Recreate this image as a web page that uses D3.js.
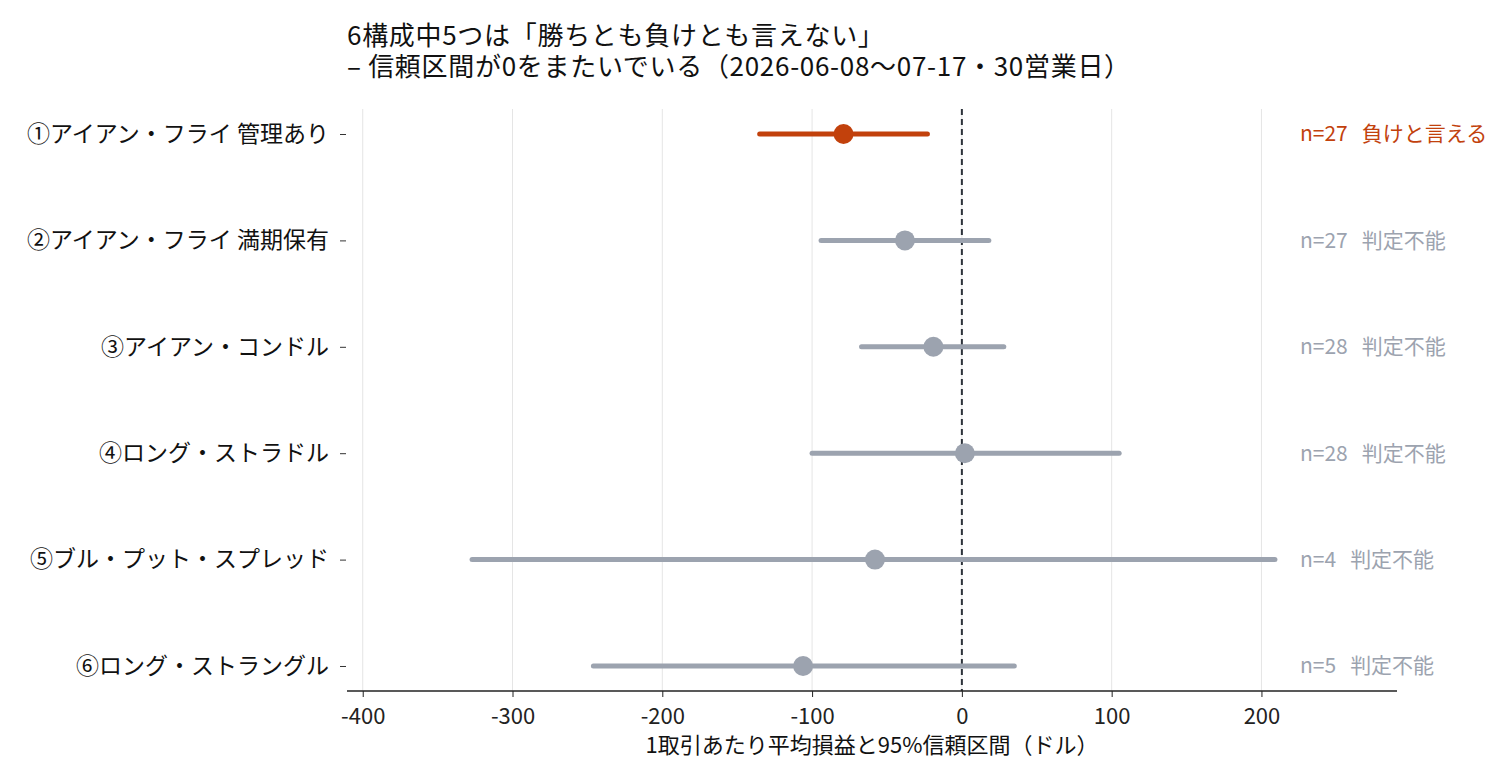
<!DOCTYPE html>
<html><head><meta charset="utf-8">
<script src="https://cdn.jsdelivr.net/npm/d3@7"></script>
<style>
html,body{margin:0;padding:0;background:#fff;}
text{font-family:"Noto Sans CJK JP","Noto Sans",sans-serif;}
</style></head>
<body><svg id="chart" width="1500" height="780"></svg>
<script>
const categories = ["①アイアン・フライ 管理あり","②アイアン・フライ 満期保有","③アイアン・コンドル","④ロング・ストラドル","⑤ブル・プット・スプレッド","⑥ロング・ストラングル"];
const means = [-79, -38, -19, 2, -58, -106];
const lows  = [-135, -94, -67, -100, -327, -246];
const highs = [-23, 18, 28, 105, 209, 35];
const counts = [27, 27, 28, 28, 4, 5];
const verdicts = ["負けと言える","判定不能","判定不能","判定不能","判定不能","判定不能"];
const significant = [true,false,false,false,false,false];
const xTicks = [-400,-300,-200,-100,0,100,200];
const titleLines = ["6構成中5つは「勝ちとも負けとも言えない」","– 信頼区間が0をまたいでいる（2026-06-08～07-17・30営業日）"];
const xLabel = "1取引あたり平均損益と95%信頼区間（ドル）";

const data = categories.map((c,i)=>({cat:c,mean:means[i],lo:lows[i],hi:highs[i],n:counts[i],verdict:verdicts[i],sig:significant[i]}));
const C_SIG = "#c2410c", C_NS = "#9ca3af";

const svg = d3.select("#chart");
const L=347, R=1397, T=109, B=691;
const x = d3.scaleLinear().domain([-410.5,290.5]).range([L,R]);
const y = d3.scalePoint().domain(categories).range([T,B]).padding(0.235);

// grid
svg.append("g").selectAll("line").data(xTicks).join("line")
  .attr("x1",d=>x(d)).attr("x2",d=>x(d)).attr("y1",T).attr("y2",B)
  .attr("stroke","#e5e5e5").attr("stroke-width",1);

// zero line
svg.append("line").attr("x1",x(0)).attr("x2",x(0)).attr("y1",T).attr("y2",B)
  .attr("stroke","#2d333b").attr("stroke-width",2).attr("stroke-dasharray","6,4");

// x axis
const xa = svg.append("g").attr("transform",`translate(0,${B})`)
  .call(d3.axisBottom(x).tickValues(xTicks).tickSize(6).tickPadding(11).tickFormat(d=>d3.format("d")(d).replace("−","-")));
xa.select(".domain").attr("stroke","#222").attr("stroke-width",1.5).attr("d",`M${L},0H${R}`);
xa.selectAll(".tick line").attr("stroke","#222");
xa.selectAll(".tick text").attr("font-size",22).attr("fill","#222").attr("font-family",null);

// y axis
const ya = svg.append("g").attr("transform",`translate(${L-1},0)`)
  .call(d3.axisLeft(y).tickSize(6).tickPadding(11));
ya.select(".domain").remove();
ya.selectAll(".tick line").attr("stroke","#333");
ya.selectAll(".tick text").attr("font-size",23).attr("fill","#111").attr("font-family",null);

// error bars
const g = svg.append("g");
g.selectAll("line.ci").data(data).join("line").attr("class","ci")
  .attr("x1",d=>x(d.lo)).attr("x2",d=>x(d.hi)).attr("y1",d=>y(d.cat)).attr("y2",d=>y(d.cat))
  .attr("stroke",d=>d.sig?C_SIG:C_NS).attr("stroke-width",5).attr("stroke-linecap","round");
g.selectAll("circle").data(data).join("circle")
  .attr("cx",d=>x(d.mean)).attr("cy",d=>y(d.cat)).attr("r",10)
  .attr("fill",d=>d.sig?C_SIG:C_NS);

// right annotations
const ann = svg.append("g").selectAll("text").data(data).join("text")
  .attr("x",1300).attr("y",d=>y(d.cat)).attr("dy","0.35em")
  .attr("font-size",21).attr("fill",d=>d.sig?C_SIG:C_NS);
ann.append("tspan").text(d=>`n=${d.n}`);
ann.append("tspan").attr("dx",14).text(d=>d.verdict);

// title (one text, two lines)
const title = svg.append("text").attr("x",L).attr("y",45).attr("font-size",26)
  .attr("letter-spacing",0.7).attr("fill","#111");
title.selectAll("tspan").data(titleLines).join("tspan")
  .attr("x",L).attr("dy",(d,i)=>i===0?0:31).text(d=>d);

// x label
svg.append("text").attr("x",(L+R)/2).attr("y",753).attr("text-anchor","middle")
  .attr("font-size",22).attr("fill","#111").text(xLabel);
</script></body></html>
